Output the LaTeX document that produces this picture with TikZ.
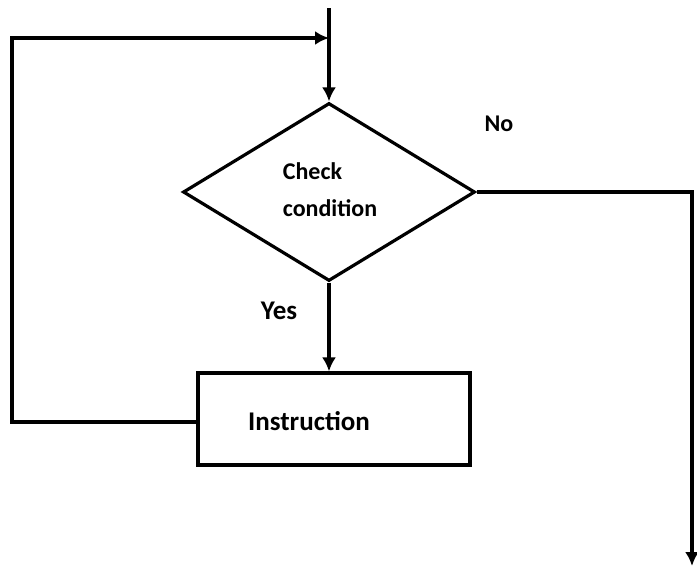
\documentclass[tikz,border=0pt]{standalone}
\usepackage{fontspec}
\setmainfont{Carlito}
\usetikzlibrary{shapes.geometric,arrows.meta}

\tikzset{
  flowline/.style={line width=3.2pt, line join=miter},
  flowarrow/.style={flowline, -{Latex[length=14pt,width=14pt]}},
  decision/.style={draw, diamond, line width=3.2pt, inner sep=0pt,
    minimum width=292pt, minimum height=178pt},
  process/.style={draw, rectangle, line width=3.2pt, inner sep=0pt,
    minimum width=272pt, minimum height=92pt},
  labeltext/.style={font=\bfseries\fontsize{24}{37}\selectfont, inner sep=0pt},
  bigtext/.style={font=\bfseries\fontsize{27}{32}\selectfont, inner sep=0pt}
}

\begin{document}
\begin{tikzpicture}[x=1pt,y=-1pt]
  \useasboundingbox (0,0) rectangle (697,570);

  % decision and process boxes
  \node[decision] (check) at (329,192) {};
  \node[labeltext, align=left] (checktext) at (330,190) {Check\\condition};
  \node[process] (instr) at (334,419) {};
  \node[bigtext] (instrtext) at (309,421) {Instruction};

  % branch labels
  \node[bigtext] (yes) at (279,311) {Yes};
  \node[labeltext] (no) at (499,124) {No};

  % helper points for the free ends
  \coordinate (entry) at (329,8);
  \coordinate (join) at (329,38);
  \coordinate (loopcorner) at (12,422);
  \coordinate (exit) at (692,566);

  % entry into the decision
  \draw[flowarrow] (entry) -- (check.north);
  % yes branch
  \draw[flowarrow] (check.south) -- (check.south |- instr.north);
  % loop back from the instruction to the entry line
  \draw[flowarrow] (instr.west |- loopcorner) -- (loopcorner) |- (join);
  % no branch leaves the loop
  \draw[flowarrow] (check.east) -| (exit);
\end{tikzpicture}
\end{document}
